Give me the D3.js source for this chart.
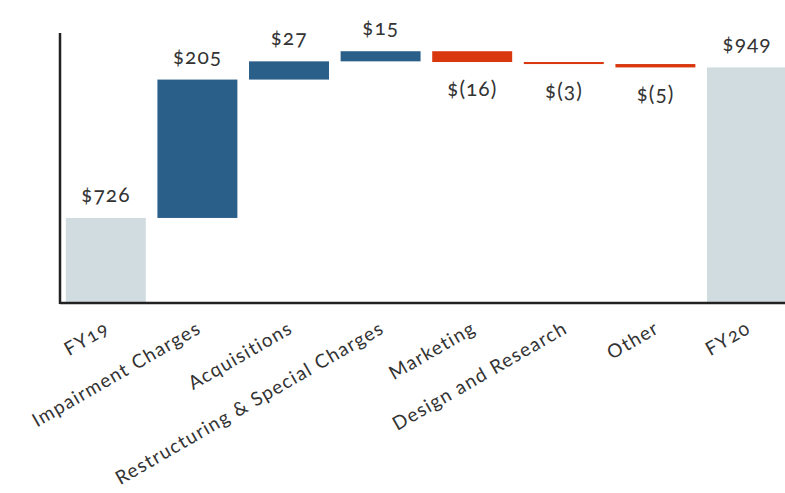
<!DOCTYPE html>
<html>
<head>
<meta charset="utf-8">
<script src="https://cdn.jsdelivr.net/npm/d3@7"></script>
<style>
  body { margin: 0; background: #fff; }
  text { font-family: "Lato", "Open Sans", sans-serif; fill: #333; font-feature-settings: "onum"; }
</style>
</head>
<body>
<div id="chart"></div>
<script>
// chart data
const categories = ["FY19", "Impairment Charges", "Acquisitions", "Restructuring & Special Charges",
    "Marketing", "Design and Research", "Other", "FY20"];
const changes = [726, 205, 27, 15, -16, -3, -5, 949];
const isTotal = [true, false, false, false, false, false, false, true];
const valueLabels = ["$726", "$205", "$27", "$15", "$(16)", "$(3)", "$(5)", "$949"];

const width = 785, height = 493;
const colors = {total: "#d0dcdf", up: "#2a5f8a", down: "#d9380f"};

let svg = d3.select("#chart")
    .append("svg")
    .attr("width", width)
    .attr("height", height);

// build start/end of each step
let running = 0;
let steps = [];
for (let i = 0; i < categories.length; i++) {
    let start, end;
    if (isTotal[i]) {
        start = 600;
        end = changes[i];
        running = changes[i];
    } else {
        start = running;
        end = running + changes[i];
        running = end;
    }
    steps.push({name: categories[i], start: start, end: end, value: changes[i], total: isTotal[i], label: valueLabels[i]});
}

// scales
let x = d3.scaleBand()
    .domain(categories)
    .range([60, 792.8])
    .paddingInner(0.127)
    .paddingOuter(0.0635);

let y = d3.scaleLinear()
    .domain([600, 1000])
    .range([303, 33]);

// bars
svg.selectAll("rect.bar")
    .data(steps)
    .enter()
    .append("rect")
    .attr("class", "bar")
    .attr("x", d => x(d.name))
    .attr("width", x.bandwidth())
    .attr("y", d => y(Math.max(d.start, d.end)))
    .attr("height", d => Math.max(2, Math.abs(y(d.start) - y(d.end))))
    .attr("fill", d => d.total ? colors.total : (d.value >= 0 ? colors.up : colors.down));

// value labels
svg.selectAll("text.val")
    .data(steps)
    .enter()
    .append("text")
    .attr("class", "val")
    .attr("x", d => x(d.name) + x.bandwidth() / 2)
    .attr("y", d => d.value >= 0 ? y(Math.max(d.start, d.end)) - 16 : y(Math.min(d.start, d.end)) + 34)
    .attr("text-anchor", "middle")
    .style("font-size", "21px")
    .style("letter-spacing", "1px")
    .text(d => d.label);

// x axis
let xAxis = svg.append("g")
    .attr("transform", `translate(0, 303)`)
    .call(d3.axisBottom(x).tickSize(0));
xAxis.select(".domain").remove();
xAxis.selectAll("text")
    .attr("x", 0).attr("y", 0).attr("dy", 0)
    .attr("text-anchor", "end")
    .attr("transform", "translate(5, 29) rotate(-30)")
    .style("font-size", "19px")
    .style("letter-spacing", "1.3px")
    .style("font-family", "Lato, 'Open Sans', sans-serif")
    .attr("fill", "#333");

// axis lines
svg.append("line")
    .attr("x1", 60).attr("x2", 785)
    .attr("y1", 303).attr("y2", 303)
    .attr("stroke", "#222").attr("stroke-width", 2.5);
svg.append("line")
    .attr("x1", 60).attr("x2", 60)
    .attr("y1", 33).attr("y2", 304)
    .attr("stroke", "#222").attr("stroke-width", 2.5);
</script>
</body>
</html>
